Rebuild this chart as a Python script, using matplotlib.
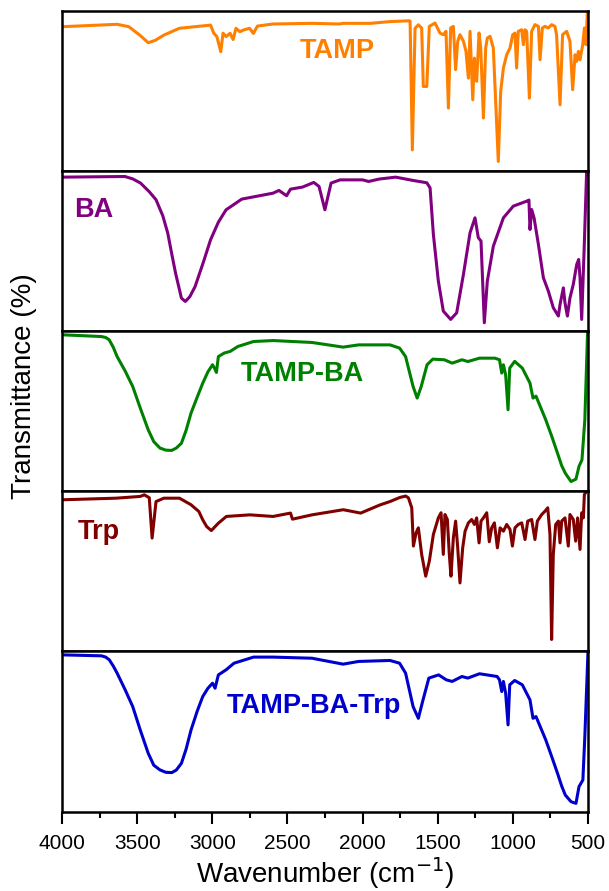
import numpy as np
import matplotlib
matplotlib.use('Agg')
import matplotlib.pyplot as plt
from matplotlib.ticker import MultipleLocator

plt.rcParams['font.family'] = ['Liberation Sans', 'DejaVu Sans']

# spectra: wavenumber (cm-1) and relative transmittance (0..1 of each panel)
tamp_wn = [4000, 3634, 3556, 3480, 3427, 3380, 3322, 3220, 3012, 2991, 2970, 2944, 2929, 2909, 2882, 2862,
           2843, 2817, 2791, 2752, 2727, 2700, 2596, 2337, 2155, 2129, 1948, 1817, 1690,
           1684, 1669, 1651, 1629, 1607, 1596, 1573, 1556, 1518, 1485, 1463, 1445, 1429, 1414,
           1396, 1381, 1367, 1352, 1329, 1312, 1296, 1285, 1267, 1256, 1241, 1225, 1214, 1196,
           1181, 1170, 1152, 1130, 1097, 1081, 1063, 1041, 1019, 1001, 986, 975, 964, 941, 930,
           919, 908, 890, 875, 853, 830, 819, 804, 786, 764, 742, 720, 709, 686, 669, 642, 620,
           602, 586, 575, 564, 553, 535, 524, 513, 504]
tamp_t = [0.90, 0.915, 0.90, 0.845, 0.80, 0.815, 0.848, 0.89, 0.91, 0.86, 0.838, 0.744, 0.86, 0.838, 0.859, 0.82,
          0.89, 0.869, 0.88, 0.89, 0.858, 0.904, 0.917, 0.921, 0.917, 0.921, 0.921, 0.932, 0.937,
          0.934, 0.131, 0.89, 0.912, 0.892, 0.527, 0.527, 0.902, 0.923, 0.86, 0.85, 0.871, 0.392, 0.892,
          0.902, 0.632, 0.809, 0.85, 0.809, 0.746, 0.579, 0.871, 0.444, 0.704, 0.559, 0.861, 0.767, 0.33,
          0.767, 0.829, 0.84, 0.767, 0.059, 0.496, 0.642, 0.725, 0.767, 0.85, 0.86, 0.642, 0.871, 0.881, 0.788,
          0.881, 0.871, 0.454, 0.871, 0.913, 0.902, 0.694, 0.892, 0.902, 0.892, 0.913, 0.902, 0.85, 0.413, 0.85, 0.871, 0.809,
          0.507, 0.725, 0.684, 0.746, 0.694, 0.788, 0.892, 0.788, 1.0]

ba_wn = [4000, 3582, 3530, 3478, 3420, 3375, 3330, 3297, 3270, 3245, 3206, 3180, 3150, 3115, 3060, 3012,
         2960, 2909, 2804, 2596, 2557, 2506, 2480, 2400, 2325, 2290, 2251, 2210, 2150, 2000, 1960,
         1890, 1780, 1662, 1573, 1551, 1529, 1496, 1463, 1414, 1374, 1329, 1285, 1252, 1230, 1212,
         1190, 1170, 1130, 1063, 997, 908, 893, 886, 875, 859, 830, 797, 764, 731, 697, 686, 664,
         653, 637, 620, 598, 575, 562, 553, 542, 526, 509]
ba_t = [0.961, 0.965, 0.95, 0.924, 0.87, 0.82, 0.72, 0.612, 0.48, 0.362, 0.206, 0.185, 0.215, 0.278, 0.43, 0.57,
        0.68, 0.757, 0.824, 0.861, 0.878, 0.845, 0.886, 0.899, 0.928, 0.903, 0.757, 0.924, 0.944, 0.944, 0.934,
        0.949, 0.961, 0.94, 0.926, 0.894, 0.603, 0.312, 0.125, 0.073, 0.114, 0.354, 0.614, 0.707, 0.583, 0.562,
        0.052, 0.312, 0.530, 0.707, 0.780, 0.811, 0.818, 0.634, 0.759, 0.707, 0.541, 0.333, 0.25, 0.146, 0.094, 0.166, 0.270,
        0.176, 0.094, 0.207, 0.291, 0.416, 0.447, 0.333, 0.073, 0.499, 0.999]

tampba_wn = [4000, 3738, 3710, 3687, 3660, 3634, 3580, 3530, 3480, 3427, 3390, 3349, 3310, 3271, 3240,
             3206, 3175, 3142, 3100, 3064, 3030, 2999, 2986, 2973, 2960, 2921, 2882, 2830, 2726, 2596,
             2337, 2130, 2026, 1818, 1754, 1714, 1664, 1637, 1610, 1571, 1533, 1456, 1404, 1339, 1300,
             1222, 1119, 1089, 1074, 1063, 1048, 1032, 1021, 988, 937, 886, 866, 846, 781, 740, 703,
             675, 651, 613, 580, 560, 540, 521, 503]
tampba_t = [0.977, 0.966, 0.96, 0.946, 0.9, 0.841, 0.75, 0.654, 0.52, 0.384, 0.31, 0.27, 0.257, 0.255, 0.27,
            0.30, 0.38, 0.488, 0.59, 0.675, 0.745, 0.79, 0.769, 0.742, 0.841, 0.863, 0.873, 0.904, 0.935, 0.941,
            0.929, 0.9, 0.914, 0.914, 0.894, 0.841, 0.654, 0.582, 0.654, 0.79, 0.825, 0.821, 0.8, 0.821, 0.81,
            0.831, 0.831, 0.821, 0.738, 0.79, 0.727, 0.509, 0.769, 0.811, 0.769, 0.675, 0.582, 0.594, 0.446, 0.34, 0.238,
            0.16, 0.113, 0.061, 0.076, 0.155, 0.197, 0.446, 0.987]

trp_wn = [4000, 3642, 3480, 3453, 3420, 3401, 3375, 3323, 3219, 3142, 3090, 3064, 3038, 3007, 2960, 2907,
          2751, 2596, 2480, 2467, 2337, 2129, 2013, 1935, 1884, 1818, 1751, 1713, 1695,
          1673, 1662, 1644, 1629, 1607, 1580, 1556, 1529, 1496, 1478, 1463, 1452, 1436, 1423, 1412,
          1396, 1381, 1367, 1352, 1334, 1318, 1296, 1274, 1256, 1241, 1225, 1212, 1196, 1174, 1157,
          1141, 1123, 1103, 1085, 1063, 1041, 1019, 1003, 986, 964, 941, 919, 901, 875, 853, 837,
          808, 786, 768, 753, 742, 731, 715, 697, 686, 675, 653, 631, 620, 598, 582, 569, 553,
          542, 531, 524, 509]
trp_t = [0.947, 0.957, 0.968, 0.978, 0.96, 0.708, 0.936, 0.957, 0.957, 0.916, 0.874, 0.822, 0.78, 0.755, 0.801, 0.843,
         0.853, 0.843, 0.864, 0.826, 0.853, 0.885, 0.864, 0.895, 0.915, 0.936, 0.962, 0.97, 0.959,
         0.897, 0.658, 0.741, 0.772, 0.606, 0.47, 0.564, 0.731, 0.834, 0.866, 0.606, 0.855, 0.824, 0.606, 0.47,
         0.710, 0.814, 0.647, 0.428, 0.647, 0.751, 0.803, 0.824, 0.793, 0.834, 0.678, 0.814, 0.834, 0.866, 0.685,
         0.772, 0.803, 0.647, 0.772, 0.751, 0.793, 0.762, 0.658, 0.772, 0.793, 0.803, 0.699, 0.814, 0.824, 0.699, 0.814,
         0.855, 0.876, 0.897, 0.731, 0.075, 0.606, 0.793, 0.814, 0.678, 0.814, 0.834, 0.658, 0.855, 0.824, 0.689, 0.834, 0.637,
         0.866, 0.834, 0.98, 1.0]

tampbatrp_wn = [4000, 3738, 3710, 3686, 3660, 3634, 3580, 3530, 3480, 3427, 3390, 3349, 3310, 3270, 3240,
                3206, 3175, 3142, 3100, 3064, 3030, 2999, 2982, 2960, 2908, 2856, 2726, 2596, 2337, 2130,
                2026, 1818, 1754, 1714, 1664, 1629, 1598, 1559, 1494, 1443, 1404, 1339, 1300, 1222, 1105,
                1089, 1074, 1063, 1048, 1032, 1021, 988, 937, 886, 866, 846, 781, 740, 703, 675, 651, 613,
                580, 560, 534, 521, 500]
tampbatrp_t = [0.979, 0.973, 0.965, 0.948, 0.91, 0.865, 0.76, 0.656, 0.51, 0.365, 0.29, 0.261, 0.246, 0.244, 0.26,
               0.302, 0.39, 0.51, 0.63, 0.719, 0.77, 0.802, 0.771, 0.854, 0.886, 0.927, 0.965, 0.965, 0.958, 0.921,
               0.938, 0.944, 0.927, 0.865, 0.656, 0.583, 0.698, 0.834, 0.854, 0.823, 0.813, 0.844, 0.834, 0.861, 0.844,
               0.823, 0.75, 0.813, 0.74, 0.542, 0.792, 0.819, 0.792, 0.698, 0.583, 0.594, 0.448, 0.34, 0.24, 0.16, 0.104, 0.0625,
               0.052, 0.156, 0.198, 0.469, 1.0]

names = ['TAMP', 'BA', 'TAMP-BA', 'Trp', 'TAMP-BA-Trp']
colors = ['#ff8000', '#800080', '#008000', '#800000', '#0000cc']
label_pos = [(2170, 0.75), (3787, 0.757), (2403, 0.733), (3757, 0.747), (2324, 0.66)]
spectra = [(tamp_wn, tamp_t), (ba_wn, ba_t), (tampba_wn, tampba_t),
           (trp_wn, trp_t), (tampbatrp_wn, tampbatrp_t)]

fig, axes = plt.subplots(5, 1, sharex=True, figsize=(6.09, 8.91), dpi=100)
fig.subplots_adjust(left=0.102, right=0.9655, top=0.988, bottom=0.089, hspace=0)

for ax, (wn, t), name, c, (lx, ly) in zip(axes, spectra, names, colors, label_pos):
    ax.plot(wn, t, color=c, lw=2.2, solid_joinstyle='round')
    ax.text(lx, ly, name, color=c, fontsize=19.5, fontweight='bold', ha='center', va='center')
    ax.set_ylim(0, 1)
    ax.set_yticks([])
    for s in ax.spines.values():
        s.set_linewidth(1.8)
    ax.tick_params(axis='x', which='both', bottom=False, labelbottom=False)

ax = axes[-1]
ax.set_xlim(4000, 500)
ax.xaxis.set_major_locator(MultipleLocator(500))
ax.xaxis.set_minor_locator(MultipleLocator(250))
ax.tick_params(axis='x', which='major', bottom=True, labelbottom=True, direction='out',
               length=8.4, width=1.5, labelsize=15, pad=8)
ax.tick_params(axis='x', which='minor', bottom=True, direction='out', length=4.2, width=1.5)
fig.text(0.5337, 0.0095, 'Wavenumber (cm$^{-1}$)', fontsize=20, ha='center', va='baseline')
fig.text(0.040, 0.567, 'Transmittance (%)', rotation=90, fontsize=20, ha='center', va='center')

fig.savefig('out.png', dpi=100)
